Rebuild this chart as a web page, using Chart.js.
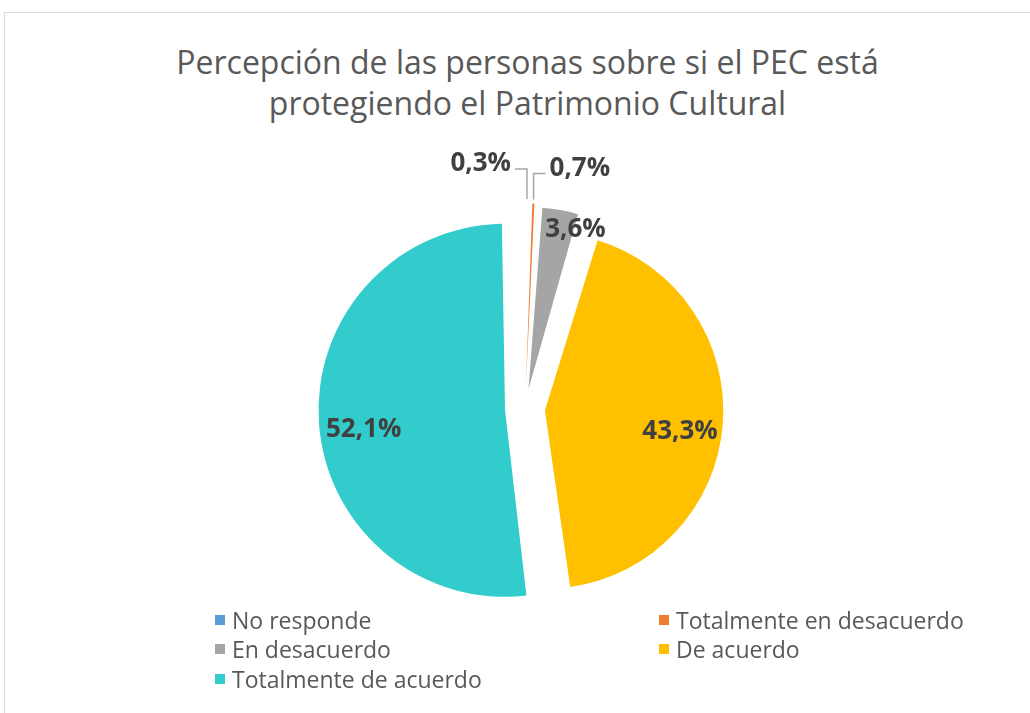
<!DOCTYPE html>
<html>
<head>
<meta charset="utf-8">
<script src="https://cdn.jsdelivr.net/npm/chart.js@4.4.0/dist/chart.umd.min.js"></script>
<style>
  html, body { margin: 0; padding: 0; background: #fff; }
  body { width: 1030px; height: 713px; position: relative; overflow: hidden; font-family: "Open Sans", sans-serif; }
  #frame { position: absolute; left: 4px; top: 12px; width: 1060px; height: 740px; border: 1px solid #d9d9d9; }
  #title { position: absolute; left: 0; top: 41px; width: 1055px; text-align: center; color: #595959; font-size: 32px; line-height: 41px; }
  #chart { position: absolute; left: 0; top: 0; }
  #legend { position: absolute; left: 215px; top: 605px; display: grid; grid-template-columns: 444px auto; grid-auto-rows: 29.5px; color: #595959; font-size: 23px; }
  #legend div { display: flex; align-items: center; white-space: nowrap; }
  #legend span.box { width: 10px; height: 10px; margin-right: 7px; display: inline-block; }
</style>
</head>
<body>
<div id="frame"></div>
<div id="title">Percepción de las personas sobre si el PEC está<br>protegiendo el Patrimonio Cultural</div>
<canvas id="chart" width="1030" height="713"></canvas>
<div id="legend"></div>
<script>
// data (percent of answers)
const categories = ['No responde', 'Totalmente en desacuerdo', 'En desacuerdo', 'De acuerdo', 'Totalmente de acuerdo'];
const shares = [0.3, 0.7, 3.6, 43.3, 52.1];
const colors = ['#5B9BD5', '#ED7D31', '#A5A5A5', '#FFC000', '#33CCCC'];

const fmt = v => v.toFixed(1).replace('.', ',') + '%';

// percent labels, small slices get a leader line
const sliceLabels = {
  id: 'sliceLabels',
  afterDatasetsDraw(chart) {
    const ctx = chart.ctx;
    const meta = chart.getDatasetMeta(0);
    ctx.save();
    ctx.font = 'bold 26px "Open Sans"';
    ctx.fillStyle = '#404040';
    ctx.textBaseline = 'middle';
    meta.data.forEach((arc, i) => {
      const p = arc.getProps(['x', 'y', 'startAngle', 'endAngle', 'outerRadius', 'circumference'], true);
      // chart.js moves an arc by offset/4 and grows its radius a little
      const shift = (arc.options.offset || 0) / 4;
      const fix = 1 - Math.sin(Math.min(Math.PI, p.circumference));
      const rad = p.outerRadius + shift * fix;
      const mid = (p.startAngle + p.endAngle) / 2;
      const c = Math.cos(mid), s = Math.sin(mid);
      const cx = p.x + c * shift, cy = p.y + s * shift;
      const text = fmt(shares[i]);
      if (shares[i] < 1) {
        const tx = cx + c * (rad + 4);
        const ty = cy + s * (rad + 4);
        const side = i === 0 ? -1 : 1;
        const ey = ty - (i === 0 ? 30 : 26);
        ctx.strokeStyle = '#A6A6A6';
        ctx.lineWidth = 1.5;
        ctx.beginPath();
        ctx.moveTo(tx, ty);
        ctx.lineTo(tx, ey);
        ctx.lineTo(tx + side * 12, ey);
        ctx.stroke();
        ctx.textAlign = side < 0 ? 'right' : 'left';
        ctx.fillText(text, tx + side * 16, ey - 5);
      } else if (shares[i] < 10) {
        const r = 0.9 * rad;
        ctx.textAlign = 'left';
        ctx.fillText(text, cx + c * r - 12, cy + s * r + 2);
      } else {
        const r = 0.76 * rad;
        ctx.textAlign = 'center';
        ctx.fillText(text, cx + c * r, cy + s * r + 10);
      }
    });
    ctx.restore();
  }
};

const chart = new Chart(document.getElementById('chart'), {
  type: 'pie',
  data: {
    labels: categories,
    datasets: [{
      data: shares,
      backgroundColor: colors,
      borderWidth: 0,
      offset: 80
    }]
  },
  options: {
    responsive: false,
    animation: false,
    layout: { padding: { left: 318.5, right: 298.5, top: 202.5, bottom: 97.5 } },
    plugins: {
      legend: { display: false },
      tooltip: { enabled: false },
      title: { display: false }
    }
  },
  plugins: [sliceLabels]
});

// two-column legend like the original
const legend = document.getElementById('legend');
categories.forEach((name, i) => {
  const item = document.createElement('div');
  item.innerHTML = `<span class="box" style="background:${colors[i]}"></span>${name}`;
  legend.appendChild(item);
});
</script>
</body>
</html>
